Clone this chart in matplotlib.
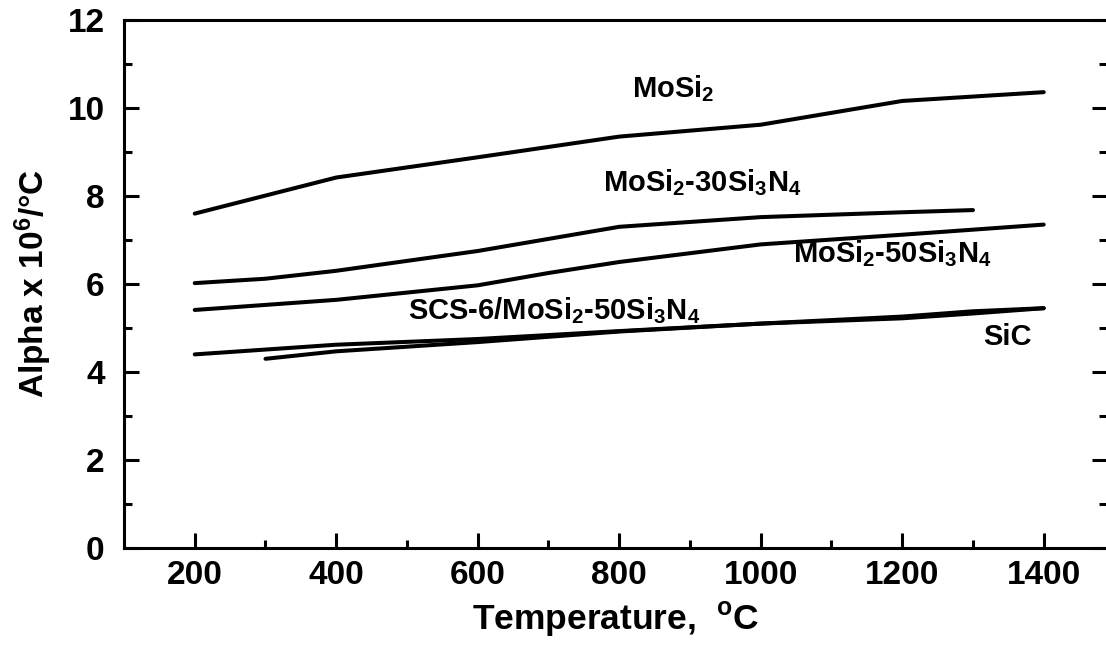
import matplotlib
matplotlib.use('Agg')
import matplotlib.pyplot as plt
from matplotlib.ticker import MultipleLocator

################## Data ##################
t_mosi2 = [200, 400, 600, 800, 1000, 1200, 1400]
a_mosi2 = [7.6, 8.42, 8.88, 9.35, 9.62, 10.16, 10.36]

t_30 = [200, 300, 400, 600, 800, 1000, 1200, 1300]
a_30 = [6.02, 6.12, 6.3, 6.75, 7.3, 7.52, 7.63, 7.68]

t_50 = [200, 400, 600, 700, 800, 1000, 1200, 1400]
a_50 = [5.41, 5.64, 5.97, 6.25, 6.5, 6.9, 7.12, 7.35]

t_scs = [200, 400, 600, 800, 1000, 1200, 1300, 1400]
a_scs = [4.4, 4.62, 4.75, 4.93, 5.1, 5.26, 5.38, 5.45]

t_sic = [300, 400, 600, 800, 1000, 1200, 1300, 1400]
a_sic = [4.3, 4.47, 4.68, 4.92, 5.1, 5.22, 5.33, 5.45]

# label text and data position (left edge, vertical centre)
labels = ['MoSi$_2$', 'MoSi$_2$-30Si$_3$N$_4$', 'MoSi$_2$-50Si$_3$N$_4$',
          'SCS-6/MoSi$_2$-50Si$_3$N$_4$', 'SiC']
label_x = [818, 777, 1045, 501, 1314]
label_y = [10.45, 8.3, 6.7, 5.4, 4.8]

################## Style ##################
plt.rcParams['font.family'] = ['Liberation Sans', 'DejaVu Sans']
plt.rcParams['font.weight'] = 'bold'
plt.rcParams['mathtext.fontset'] = 'custom'
plt.rcParams['mathtext.rm'] = 'Liberation Sans:bold'
plt.rcParams['mathtext.bf'] = 'Liberation Sans:bold'
plt.rcParams['mathtext.it'] = 'Liberation Sans:bold'
plt.rcParams['mathtext.default'] = 'rm'

fig = plt.figure(figsize=(11.06, 6.46), dpi=100)
ax = fig.add_axes([124 / 1106, 98 / 646, 983.4 / 1106, 528 / 646])

lw = 2.9
for t, a in [(t_mosi2, a_mosi2), (t_30, a_30), (t_50, a_50), (t_scs, a_scs), (t_sic, a_sic)]:
    ax.plot(t, a, color='black', lw=lw, solid_capstyle='round')

for txt, x, y in zip(labels, label_x, label_y):
    ax.text(x, y, txt, fontsize=21, fontweight='bold', ha='left', va='center')

ax.set_xlim(100, 1490)
ax.set_ylim(0, 12)
ax.xaxis.set_major_locator(MultipleLocator(200))
ax.xaxis.set_minor_locator(MultipleLocator(100))
ax.yaxis.set_major_locator(MultipleLocator(2))
ax.yaxis.set_minor_locator(MultipleLocator(1))
ax.set_xticks([200, 400, 600, 800, 1000, 1200, 1400])

for s in ['left', 'bottom', 'top']:
    ax.spines[s].set_linewidth(2.2)
ax.spines['right'].set_visible(False)

ax.tick_params(which='both', direction='in', width=2.2, labelsize=24,
               left=True, right=True, bottom=True, top=False)
ax.tick_params(which='major', length=10.8)
ax.tick_params(which='minor', length=5.8)
ax.tick_params(axis='x', pad=9)
ax.tick_params(axis='y', pad=14)
ax.tick_params(axis='y', which='both', labelright=False)

ax.set_xlabel('Temperature,  $^\\mathregular{o}$C', fontsize=25.5, fontweight='bold', labelpad=6)
ax.set_ylabel('Alpha x 10$^6$/°C', fontsize=24, fontweight='bold', labelpad=10)

fig.savefig('out.png', dpi=100)
